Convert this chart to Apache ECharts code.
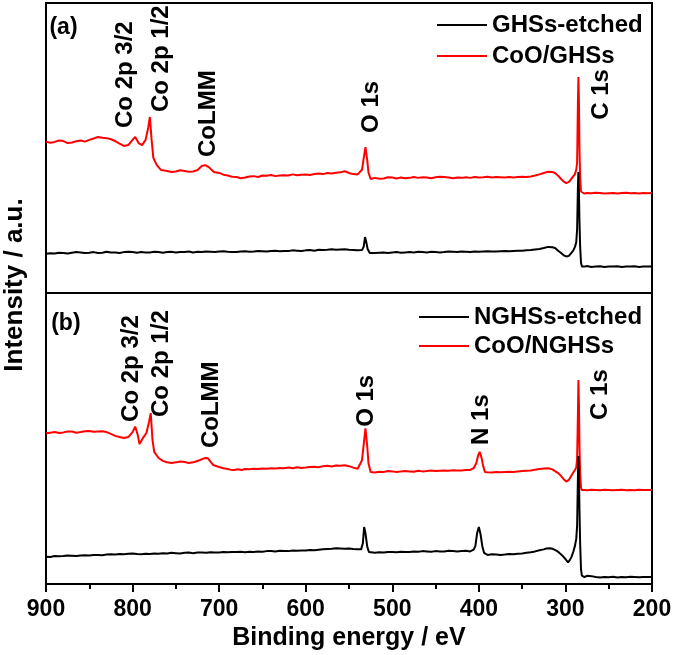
<!DOCTYPE html>
<html><head><meta charset="utf-8">
<script src="https://cdn.jsdelivr.net/npm/echarts@6/dist/echarts.min.js"></script>
<style>html,body{margin:0;padding:0;background:#fff}#c{width:675px;height:655px}</style>
</head><body><div id="c"></div>
<script>
// ---------- data ----------
const xMin = 200, xMax = 900, xStep = 100;
const xTitle = 'Binding energy / eV';
const yTitle = 'Intensity / a.u.';
const seriesNamesA = ['GHSs-etched', 'CoO/GHSs'];
const seriesNamesB = ['NGHSs-etched', 'CoO/NGHSs'];

const coGHSs = [[900,52.2],[895,51.8],[890,52.1],[885,52.6],[880,52.4],[875,51.7],[870,51.9],[865,52.3],[860,52.6],[855,52.2],[850,52.8],[845,53.3],[840,53.8],[835,53.5],[830,53.4],[825,53.0],[820,52.4],[815,51.5],[810,50.7],[805,51.0],[800,52.8],[797,53.8],[793,51.7],[789,51.0],[785,52.8],[782,56.9],[780,60.7],[778,52.8],[776,46.6],[772,44.1],[767,42.4],[760,42.1],[755,41.7],[750,41.9],[745,42.3],[740,42.1],[735,41.8],[730,41.9],[725,42.4],[720,43.8],[716,44.1],[712,43.4],[706,41.7],[700,41.4],[695,40.8],[690,40.5],[685,40.1],[680,40.0],[675,39.6],[670,39.8],[665,40.2],[660,40.3],[655,40.0],[650,40.5],[645,40.4],[640,40.7],[635,40.3],[630,40.5],[625,40.6],[620,40.5],[615,40.9],[610,40.6],[605,40.8],[600,40.9],[595,40.7],[590,41.0],[585,41.2],[580,41.0],[575,41.4],[570,41.2],[565,41.5],[560,41.6],[555,42.0],[553,41.9],[549,41.3],[545,41.0],[540,40.9],[538,41.0],[535,42.5],[533,46.5],[531,50.3],[529,46.0],[527.5,41.5],[525,39.3],[520,39.7],[515,39.4],[510,39.5],[505,39.9],[500,39.8],[495,39.5],[490,39.8],[485,39.6],[480,39.7],[475,40.0],[470,39.7],[465,39.9],[460,39.8],[455,39.6],[450,39.9],[445,40.1],[440,40.0],[435,39.8],[430,39.6],[425,39.8],[420,39.7],[415,39.9],[410,39.7],[405,40.0],[400,39.8],[395,39.9],[390,40.1],[385,39.8],[380,40.0],[375,39.9],[370,39.8],[365,40.0],[360,39.8],[355,40.0],[350,40.1],[345,40.0],[340,40.2],[335,40.5],[330,40.9],[325,41.4],[320,41.8],[318,41.9],[315,41.7],[312,41.4],[308,40.3],[305,39.3],[302,38.4],[299,37.9],[296,38.3],[294,39.0],[291,40.2],[289,41.0],[287.5,42.5],[286.5,45],[285.6,65],[285,74.5],[284.4,66],[283.8,50],[283,40],[282,35],[281,34.5],[278,34.3],[275,34.5],[270,34.4],[265,34.6],[260,34.5],[255,34.3],[250,34.4],[245,34.5],[240,34.3],[235,34.5],[230,34.6],[225,34.4],[220,34.5],[215,34.3],[210,34.5],[205,34.4],[200,34.5]];

const ghsEtched = [[900,13.5],[895,13.7],[890,13.6],[885,13.9],[880,13.8],[875,13.6],[870,13.9],[865,14.1],[860,14.0],[855,13.8],[850,13.9],[845,14.1],[840,13.8],[835,13.9],[830,14.2],[825,14.0],[820,14.0],[815,13.8],[810,14.1],[805,14.2],[800,14.1],[795,13.9],[790,14.1],[785,14.0],[780,14.0],[775,14.2],[770,14.1],[765,13.9],[760,14.1],[755,14.2],[750,14.0],[745,14.1],[740,14.1],[735,14.3],[730,14.0],[725,14.2],[720,14.1],[715,14.3],[710,14.2],[705,14.1],[700,14.3],[695,14.4],[690,14.2],[685,14.1],[680,14.1],[675,14.3],[670,14.4],[665,14.2],[660,14.3],[655,14.5],[650,14.4],[645,14.3],[640,14.5],[635,14.6],[630,14.4],[625,14.5],[620,14.5],[615,14.7],[610,14.6],[605,14.5],[600,14.7],[595,14.8],[590,14.6],[585,14.9],[580,14.8],[575,14.9],[570,15.1],[565,14.9],[560,15.0],[555,15.1],[550,14.9],[545,14.8],[540,14.7],[535,14.8],[533,16.0],[531.5,19.3],[530,17.5],[528.5,15.2],[526,13.8],[520,13.8],[515,13.9],[510,14.0],[505,13.8],[500,14.0],[495,14.1],[490,13.9],[485,14.0],[480,14.1],[475,14.0],[470,14.2],[465,14.1],[460,14.0],[455,14.2],[450,14.1],[445,14.0],[440,14.1],[435,14.3],[430,14.2],[425,14.1],[420,14.3],[415,14.2],[410,14.1],[405,14.3],[400,14.2],[395,14.3],[390,14.4],[385,14.3],[380,14.3],[375,14.4],[370,14.5],[365,14.4],[360,14.5],[355,14.6],[350,14.6],[345,14.7],[340,14.8],[335,15.0],[330,15.2],[325,15.5],[320,15.9],[318,16.0],[315,15.8],[312,15.5],[308,14.5],[305,13.8],[302,13.0],[299,12.6],[296,12.8],[294,13.4],[291,14.6],[289,15.9],[287.5,17.5],[286.5,22],[285.6,36],[285,41.7],[284.4,35],[283.8,25],[283,16],[282,10.5],[281,9.1],[278,9.1],[275,9.3],[270,9.0],[265,9.1],[260,9.2],[255,9.0],[250,9.1],[245,9.1],[240,9.2],[235,9.0],[230,9.1],[225,9.1],[220,9.2],[215,9.0],[210,9.1],[205,9.1],[200,9.1]];

const coNGHSs = [[900,51.8],[895,52.0],[890,52.2],[885,51.9],[880,52.1],[875,52.4],[870,52.4],[865,52.0],[860,52.2],[855,52.5],[850,52.6],[845,52.3],[840,52.4],[835,52.5],[830,52.2],[825,51.6],[820,50.9],[815,50.5],[810,50.2],[805,50.5],[800,52.2],[797,54.1],[794,51.2],[792,48.1],[788,50.2],[784,51.9],[781,55.7],[779,58.7],[777,49.5],[775,45.4],[770,43.3],[765,42.3],[760,41.8],[755,41.6],[750,41.8],[745,42.1],[740,41.9],[735,41.6],[730,41.8],[726,42.2],[722,42.6],[719,43.0],[716,43.3],[713,43.2],[711,43.0],[707,40.9],[700,40.2],[695,39.8],[690,39.5],[687,39.3],[683,39.2],[678,39.4],[674,39.2],[670,39.5],[665,39.4],[660,39.6],[655,39.5],[650,39.7],[645,39.6],[640,39.8],[635,39.7],[630,39.9],[625,39.8],[620,40.0],[615,39.8],[610,40.1],[605,39.9],[600,40.0],[595,40.2],[590,40.3],[585,40.1],[580,40.5],[575,40.6],[570,40.4],[565,40.7],[560,40.6],[555,40.8],[550,40.5],[545,40.0],[540,39.6],[538,39.5],[535,42.5],[533,48],[531,53.5],[529,47.5],[527.5,41.5],[525,38.5],[520,38.3],[515,38.6],[510,38.5],[505,38.8],[500,38.7],[495,38.5],[490,38.7],[485,38.8],[480,38.7],[475,38.6],[470,38.9],[465,38.7],[460,38.8],[455,39.0],[450,38.8],[445,38.9],[440,39.0],[435,38.9],[430,39.1],[425,39.0],[420,39.0],[415,39.2],[410,39.2],[406,39.8],[403,41.5],[401,44.0],[399,45.4],[397,43.5],[395,40.5],[393,38.5],[390,38.4],[385,38.3],[380,38.5],[375,38.4],[370,38.5],[365,38.6],[360,38.5],[355,38.7],[350,38.8],[345,38.9],[340,39.0],[335,39.3],[330,39.5],[325,39.7],[320,39.8],[318,39.7],[315,39.4],[312,38.8],[308,38.0],[305,37.1],[302,36.0],[299,35.2],[296,35.8],[294,36.8],[291,38.3],[289,39.2],[287.5,40.0],[286.5,43],[285.6,58],[285,70.1],[284.4,62],[283.8,48],[283,38],[282,33],[281,32.3],[278,32.3],[275,32.2],[270,32.4],[265,32.3],[260,32.2],[255,32.4],[250,32.3],[245,32.2],[240,32.3],[235,32.4],[230,32.2],[225,32.3],[220,32.2],[215,32.4],[210,32.3],[205,32.3],[200,32.3]];

const nghsEtched = [[900,9.4],[895,9.3],[890,9.6],[885,9.5],[880,9.6],[875,9.8],[870,9.7],[865,9.6],[860,9.8],[855,9.9],[850,9.8],[845,10.0],[840,10.0],[835,9.9],[830,10.1],[825,10.2],[820,10.1],[815,10.3],[810,10.2],[805,10.4],[800,10.5],[795,10.3],[790,10.2],[785,10.4],[780,10.3],[775,10.5],[770,10.4],[765,10.6],[760,10.5],[755,10.7],[750,10.6],[745,10.5],[740,10.7],[735,10.8],[730,10.6],[725,10.8],[720,10.8],[715,10.7],[710,10.9],[705,10.8],[700,10.8],[695,11.0],[690,10.9],[685,11.0],[680,11.0],[675,11.1],[670,10.9],[665,11.1],[660,11.0],[655,11.2],[650,11.1],[645,11.3],[640,11.3],[635,11.2],[630,11.4],[625,11.3],[620,11.3],[615,11.5],[610,11.4],[605,11.5],[600,11.5],[595,11.7],[590,11.6],[585,11.8],[580,11.9],[575,12.0],[570,12.1],[565,12.3],[560,12.2],[555,12.1],[550,12.2],[545,12.0],[540,11.9],[536,11.9],[534,14.0],[532.5,19.6],[531,17.5],[529,13.0],[527,11.0],[520,10.7],[515,10.9],[510,10.8],[505,11.0],[500,11.0],[495,10.9],[490,11.1],[485,11.0],[480,11.0],[475,11.2],[470,11.1],[465,11.3],[460,11.2],[455,11.1],[450,11.3],[445,11.2],[440,11.2],[435,11.4],[430,11.3],[425,11.2],[420,11.3],[415,11.4],[410,11.2],[406,11.8],[404,13.1],[402,17.5],[400,19.6],[398,17.0],[396,13.0],[394,10.7],[390,10.0],[385,10.2],[380,10.1],[375,10.0],[370,10.1],[365,10.3],[360,10.2],[355,10.4],[350,10.5],[345,10.7],[340,10.9],[335,11.2],[330,11.6],[325,11.9],[322,12.2],[318,12.3],[314,12.0],[310,11.4],[307,10.7],[303,9.6],[300,8.6],[297,7.4],[295,8.2],[293,9.3],[291,11.0],[289,13.1],[287.5,15.5],[286.5,20],[285.6,36],[285,44.0],[284.4,37],[283.8,26],[283,14],[282,5],[281,2.9],[278,2.4],[275,2.8],[270,2.7],[265,2.4],[260,2.2],[255,2.4],[250,2.3],[245,2.5],[240,2.2],[235,2.4],[230,2.3],[225,2.5],[220,2.4],[215,2.3],[210,2.4],[205,2.4],[200,2.4]];

// peak annotations: [text, energy, intensity at text start]
const annotationsA = [['Co 2p 3/2',808,56.9],['Co 2p 1/2',766.6,62.4],['CoLMM',712,46.9],['O 1s',523.6,55.2],['C 1s',258.7,59.7]];
const annotationsB = [['Co 2p 3/2',801.3,55.7],['Co 2p 1/2',766.6,57.4],['CoLMM',708.7,46.7],['O 1s',529.4,54.0],['N 1s',397.5,47.8],['C 1s',259.8,56.4]];
const panelLabels = [['(a)',896,91.5,0],['(b)',894,89.5,1]];

// ---------- chart ----------
const FONT = '"Liberation Sans", Arial, sans-serif';
const chart = echarts.init(document.getElementById('c'), null, {renderer:'canvas'});

function xAxisCfg(gridIndex, showLabels){
  return {
    type:'value', gridIndex, inverse:true, min:xMin, max:xMax, interval:xStep,
    axisLine:{show:true, onZero:false, lineStyle:{color:'#000', width:2}},
    axisTick:{show:showLabels, inside:false, length:8, lineStyle:{color:'#000', width:2}},
    minorTick:{show:showLabels, splitNumber:2, length:5, lineStyle:{color:'#000', width:2}},
    axisLabel:{show:showLabels, color:'#000', fontSize:23, fontWeight:'bold', fontFamily:FONT, margin:14},
    splitLine:{show:false}, minorSplitLine:{show:false},
    name: showLabels ? xTitle : '', nameLocation:'middle', nameGap:42,
    nameTextStyle:{color:'#000', fontSize:25, fontWeight:'bold', fontFamily:FONT}
  };
}
function yAxisCfg(gridIndex){
  return {type:'value', gridIndex, min:0, max:100, show:true,
    axisLine:{show:false}, axisTick:{show:false}, axisLabel:{show:false}, splitLine:{show:false}};
}
function lineSeries(name, data, color, idx){
  return {type:'line', name, data, xAxisIndex:idx, yAxisIndex:idx, showSymbol:false, symbol:'none',
    lineStyle:{color, width:2}, itemStyle:{color}, animation:false, silent:true, clip:true};
}
function legendCfg(names, left, top, gap){
  return {data:names, orient:'vertical', left, top, padding:0, itemWidth:50, itemHeight:2, itemGap:gap,
    icon:'rect',
    textStyle:{color:'#000', fontSize:24, fontWeight:'bold', fontFamily:FONT, lineHeight:26},
    selectedMode:false};
}

chart.setOption({
  animation:false,
  backgroundColor:'#fff',
  grid:[
    {left:46, right:23, top:3, height:290, show:true, borderColor:'#000', borderWidth:2, backgroundColor:'transparent'},
    {left:46, right:23, top:293, height:291, show:true, borderColor:'#000', borderWidth:2, backgroundColor:'transparent'}
  ],
  xAxis:[xAxisCfg(0,false), xAxisCfg(1,true)],
  yAxis:[yAxisCfg(0), yAxisCfg(1)],
  legend:[legendCfg(seriesNamesA, 437, 12, 5), legendCfg(seriesNamesB, 419, 304, 3)],
  series:[
    lineSeries(seriesNamesA[1], coGHSs, '#ff0000', 0),
    lineSeries(seriesNamesA[0], ghsEtched, '#000000', 0),
    lineSeries(seriesNamesB[1], coNGHSs, '#ff0000', 1),
    lineSeries(seriesNamesB[0], nghsEtched, '#000000', 1)
  ]
});

const g = [];
function addAnno(list, idx){
  list.forEach(a=>{
    const p = chart.convertToPixel({xAxisIndex:idx, yAxisIndex:idx}, [a[1], a[2]]);
    g.push({type:'text', x:p[0], y:p[1], rotation:Math.PI/2, silent:true,
      style:{text:a[0], fill:'#000', fontSize:24, fontWeight:'bold', fontFamily:FONT,
        align:'left', verticalAlign:'middle', textAlign:'left', textVerticalAlign:'middle'}});
  });
}
addAnno(annotationsA, 0);
addAnno(annotationsB, 1);
panelLabels.forEach(a=>{
  const p = chart.convertToPixel({xAxisIndex:a[3], yAxisIndex:a[3]}, [a[1], a[2]]);
  g.push({type:'text', x:p[0], y:p[1], silent:true,
    style:{text:a[0], fill:'#000', fontSize:23, fontWeight:'bold', fontFamily:FONT,
      align:'left', verticalAlign:'middle', textAlign:'left', textVerticalAlign:'middle'}});
});
g.push({type:'text', x:15, y:285, rotation:Math.PI/2, silent:true,
  style:{text:yTitle, fill:'#000', fontSize:26, fontWeight:'bold', fontFamily:FONT,
    align:'center', verticalAlign:'middle', textAlign:'center', textVerticalAlign:'middle'}});
chart.setOption({graphic:g});
</script>
</body></html>
